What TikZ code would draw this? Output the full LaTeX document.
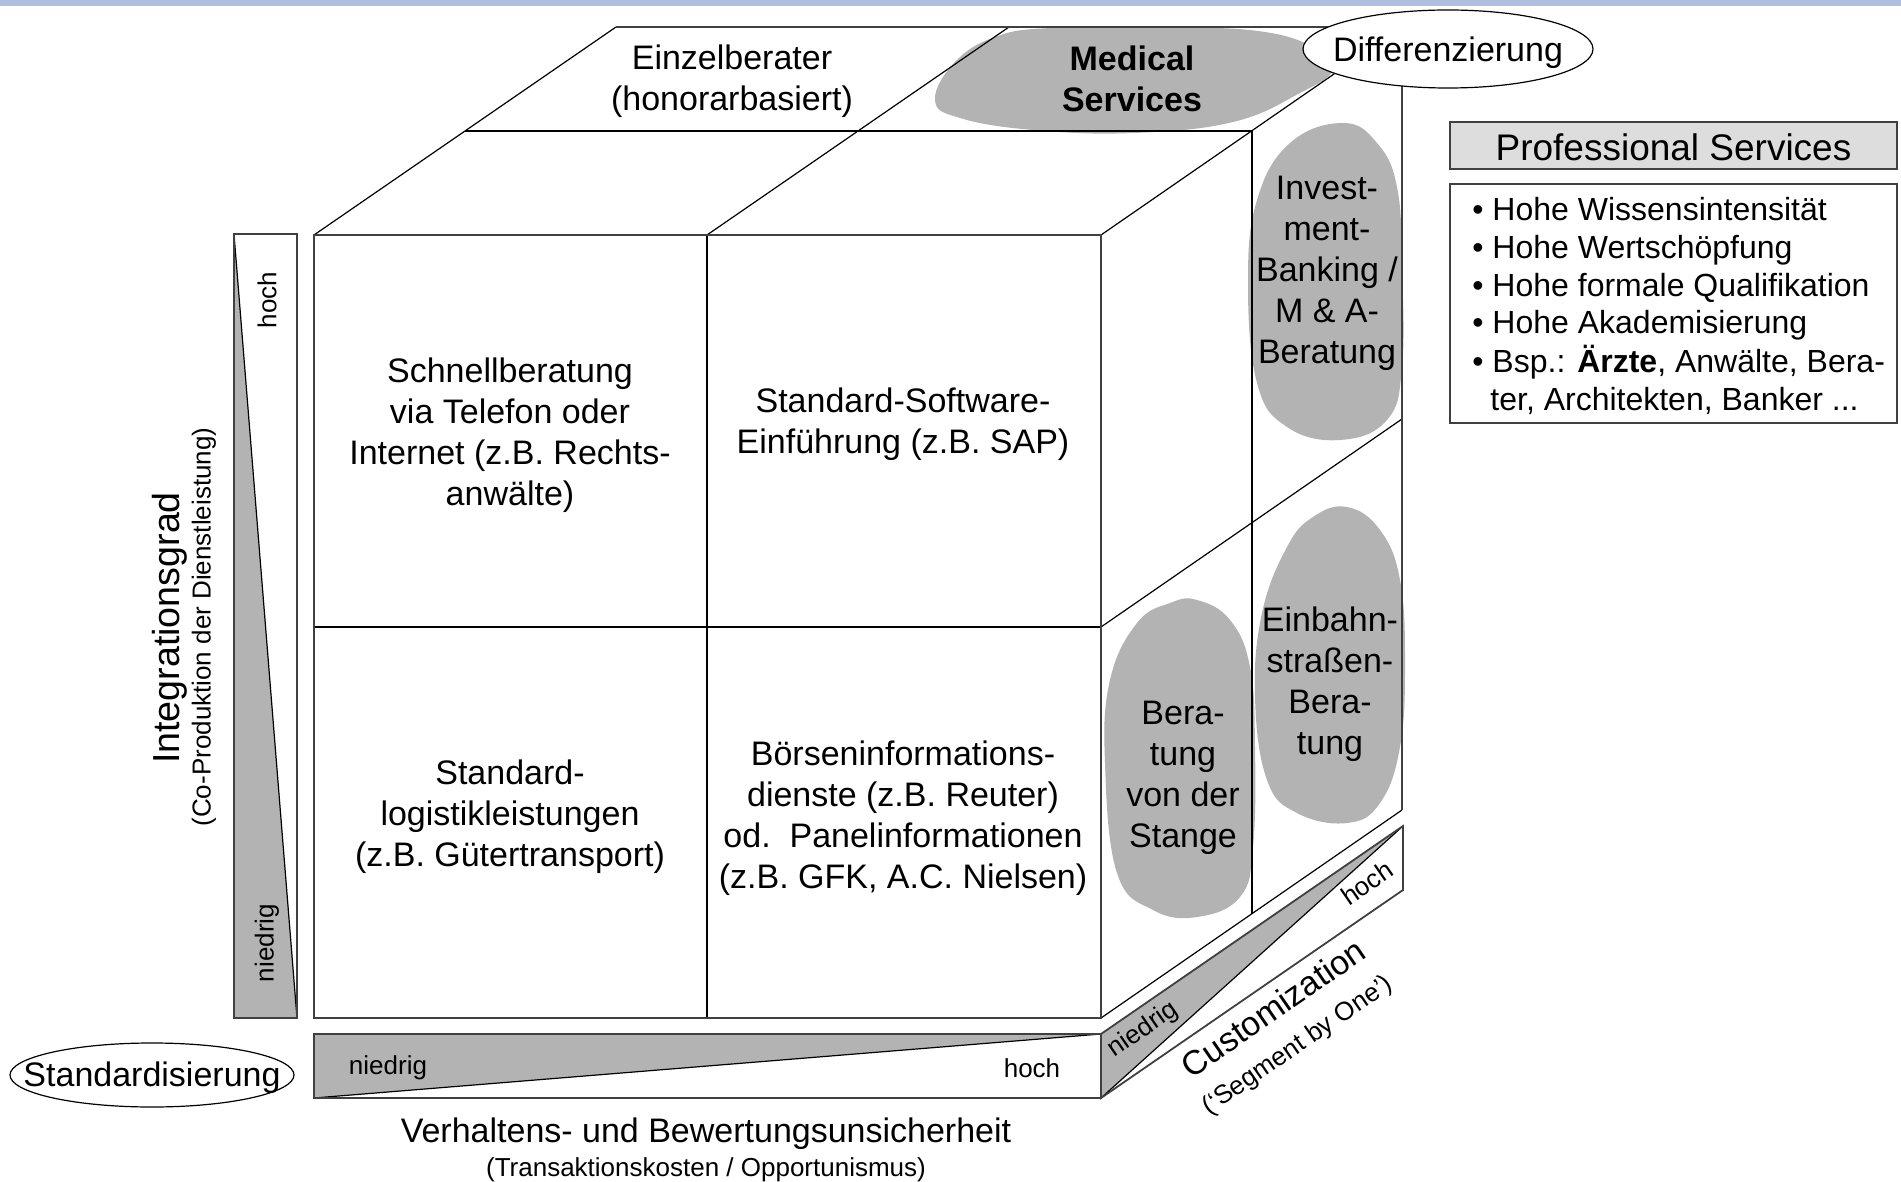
\documentclass[tikz,border=0pt]{standalone}
\usepackage{fontspec}
\setmainfont{Liberation Sans}
\usetikzlibrary{shapes.geometric}
\definecolor{bandblue}{RGB}{176,190,226}
\definecolor{blobgray}{RGB}{179,179,179}
\definecolor{titlegray}{RGB}{221,221,221}
\definecolor{edgegray}{RGB}{64,64,64}
\begin{document}
\begin{tikzpicture}[x=0.5pt,y=-0.5pt,
  thinline/.style={draw=black, line width=0.6pt},
  thickline/.style={draw=edgegray, line width=0.9pt},
  blob/.style={fill=blobgray},
  bigtxt/.style={font=\fontsize{17}{20.5}\selectfont, align=center, inner sep=0pt},
  boldtxt/.style={font=\fontsize{17}{20.5}\selectfont\bfseries, align=center, inner sep=0pt},
  smalltxt/.style={font=\fontsize{13}{15}\selectfont, align=center, inner sep=0pt},
  listtxt/.style={font=\fontsize{16}{18.8}\selectfont, inner sep=0pt, anchor=base west},
  oval/.style={ellipse, draw=black, line width=0.6pt, fill=white, inner sep=0pt}
]
\useasboundingbox (0,0) rectangle (1901,1182);
% top band
\fill[bandblue] (0,0) rectangle (1901,6);

% blobs
\fill[blob] plot[smooth cycle, tension=0.7] coordinates {(935,100) (955,62) (995,37) (1050,28) (1167,27) (1265,32) (1318,50) (1333,70) (1300,93) (1233,122) (1133,133) (1033,130) (960,118)};
\fill[blob] plot[smooth cycle, tension=0.7] coordinates {(1343,123) (1377,143) (1397,187) (1402,267) (1402,367) (1387,420) (1340,440) (1287,427) (1257,383) (1248,283) (1257,200) (1290,143)};
\fill[blob] plot[smooth cycle, tension=0.7] coordinates {(1347,507) (1380,530) (1400,580) (1405,663) (1400,747) (1380,803) (1347,823) (1297,813) (1267,780) (1255,697) (1262,613) (1287,547) (1313,517)};
\fill[blob] plot[smooth cycle, tension=0.7] coordinates {(1197,600) (1230,620) (1250,667) (1255,747) (1253,847) (1240,897) (1197,917) (1153,910) (1117,873) (1105,763) (1110,680) (1137,623) (1170,603)};

% cube: top face
\draw[thinline] (314,235) -- (616,27);
\draw[thinline] (707,235) -- (1009,27);
\draw[thinline] (1101,235) -- (1402,27);
\draw[thinline] (465,131) -- (1252,131);
\draw[thickline] (616,27) -- (1402,27);
% right face
\draw[thinline] (1252,131) -- (1252,914);
\draw[thinline] (1101,627) -- (1402,419);
\draw[thinline] (1101,1018) -- (1402,810);
\draw[thickline] (1402,27) -- (1402,810);
% front face
\draw[thinline] (707,235) -- (707,1018);
\draw[thinline] (314,627) -- (1101,627);
\draw[thickline] (314,235) rectangle (1101,1018);

% left bar
\fill[blobgray] (234,234) -- (234,1018) -- (297,1018) -- cycle;
\draw[thinline] (234,234) -- (297,1018);
\draw[thickline] (234,234) rectangle (297,1018);
% bottom bar
\fill[blobgray] (314,1034) -- (1101,1034) -- (314,1098) -- cycle;
\draw[thinline] (314,1098) -- (1101,1034);
\draw[thickline] (314,1034) rectangle (1101,1098);
% customization bar
\fill[blobgray] (1101,1034) -- (1403,826) -- (1101,1098) -- cycle;
\draw[thinline] (1101,1098) -- (1403,826);
\draw[thickline] (1101,1034) -- (1403,826) -- (1403,890) -- (1101,1098) -- cycle;

% ellipses
\node[oval, minimum width=145pt, minimum height=39pt] (diff) at (1448,49) {};
\node[bigtxt] (difftxt) at (1448,53) {Differenzierung};
\node[oval, minimum width=142pt, minimum height=32pt] (std) at (152,1075) {};
\node[bigtxt] (stdtxt) at (152,1078) {Standardisierung};

% cube texts
\node[bigtxt] (einzel) at (732,81) {Einzelberater\\(honorarbasiert)};
\node[boldtxt] (medical) at (1132,79) {Medical\\Services};
\node[bigtxt] (schnell) at (510,435) {Schnellberatung\\via Telefon oder\\Internet (z.B. Rechts-\\anwälte)};
\node[bigtxt] (software) at (903,424) {Standard-Software-\\Einführung (z.B. SAP)};
\node[bigtxt] (logistik) at (510,817) {Standard-\\logistikleistungen\\(z.B. Gütertransport)};
\node[bigtxt] (boerse) at (903,818) {Börseninformations-\\dienste (z.B. Reuter)\\od.\ \ Panelinformationen\\(z.B. GFK, A.C. Nielsen)};
\node[bigtxt] (invest) at (1327,273) {Invest-\\ment-\\Banking /\\M \& A-\\Beratung};
\node[bigtxt] (einbahn) at (1330,684) {Einbahn-\\straßen-\\Bera-\\tung};
\node[bigtxt] (stange) at (1183,778) {Bera-\\tung\\von der\\Stange};

% axis labels
\node[smalltxt, rotate=90] (lhoch) at (267,300) {hoch};
\node[smalltxt, rotate=90] (lnied) at (267,943) {niedrig};
\node[font=\fontsize{18.8}{22}\selectfont, inner sep=0pt, rotate=90] (integ) at (170,628) {Integrationsgrad};
\node[smalltxt, rotate=90] (coprod) at (204,627) {(Co-Produktion der Dienstleistung)};
\node[smalltxt] (bnied) at (388,1068) {niedrig};
\node[smalltxt] (bhoch) at (1032,1068) {hoch};
\node[bigtxt] (verh) at (706,1134) {Verhaltens- und Bewertungsunsicherheit};
\node[smalltxt] (trans) at (706,1170) {(Transaktionskosten / Opportunismus)};
\node[smalltxt, rotate=34.6] (cnied) at (1143,1030) {niedrig};
\node[smalltxt, rotate=34.6] (choch) at (1367,883) {hoch};
\node[bigtxt, rotate=34.6] (custom) at (1273,1008) {Customization};
\node[smalltxt, rotate=34.6] (segment) at (1298,1046) {(‘Segment by One’)};

% professional services
\node[draw=edgegray, line width=0.8pt, fill=titlegray, minimum width=223.5pt, minimum height=23.5pt, inner sep=0pt] (ptitle) at (1673.5,145.5) {};
\node[font=\fontsize{18.5}{22}\selectfont, inner sep=0pt] (ptitletxt) at (1673.5,147) {Professional Services};
\draw[draw=edgegray, line width=0.8pt] (1450,184) rectangle (1897,423);
\node[listtxt] (l1) at (1472,221) {• Hohe Wissensintensität};
\node[listtxt] (l2) at (1472,259) {• Hohe Wertschöpfung};
\node[listtxt] (l3) at (1472,297) {• Hohe formale Qualifikation};
\node[listtxt] (l4) at (1472,334) {• Hohe Akademisierung};
\node[listtxt] (l5) at (1472,372) {• Bsp.: \textbf{Ärzte}, Anwälte, Bera-};
\node[listtxt] (l6) at (1490,410) {ter, Architekten, Banker ...};
\end{tikzpicture}
\end{document}
